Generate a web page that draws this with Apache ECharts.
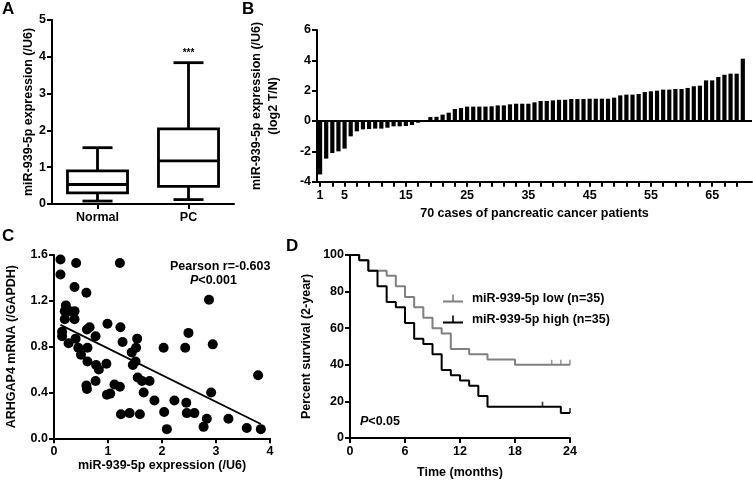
<!DOCTYPE html>
<html>
<head>
<meta charset="utf-8">
<script src="https://cdn.jsdelivr.net/npm/echarts@6/dist/echarts.min.js"></script>
<style>html,body{margin:0;padding:0;background:#fff}#c{width:753px;height:480px}</style>
</head>
<body>
<div id="c"></div>
<script>
// ---------- Panel A: box plot ----------
const boxCategories = ['Normal', 'PC'];
const boxMin    = [0.08, 0.12];
const boxQ1     = [0.30, 0.48];
const boxMedian = [0.53, 1.17];
const boxQ3     = [0.90, 2.04];
const boxMax    = [1.53, 3.84];
const boxStars  = ['', '***'];

// ---------- Panel B: waterfall bars ----------
const caseValues = [
 -3.52,-2.48,-2.11,-2.00,-1.82,-1.01,-0.68,-0.55,-0.53,-0.50,
 -0.50,-0.44,-0.35,-0.35,-0.33,-0.26,-0.11,-0.03, 0.26, 0.28,
  0.42, 0.55, 0.79, 0.86, 0.95, 0.95, 0.95, 0.95, 0.97, 1.03,
  1.03, 1.10, 1.14, 1.14, 1.14, 1.23, 1.32, 1.32, 1.36, 1.40,
  1.40, 1.45, 1.45, 1.45, 1.47, 1.47, 1.47, 1.47, 1.54, 1.69,
  1.74, 1.74, 1.78, 1.91, 1.96, 2.00, 2.07, 2.07, 2.11, 2.11,
  2.18, 2.29, 2.33, 2.68, 2.68, 2.90, 3.05, 3.12, 3.12, 4.11];
const caseLabels = [];
for (let i = 1; i <= 70; i++) caseLabels.push(String(i));
caseLabels.push('');
const caseTickLabels = ['1', '5', '15', '25', '35', '45', '55', '65'];

// ---------- Panel C: scatter ----------
const scatterX = [0.12,0.12,0.41,1.22,0.38,0.60,0.22,0.20,0.29,0.38,0.20,0.38,0.15,0.15,0.27,0.40,0.45,0.50,0.62,0.61,
 0.66,0.77,0.62,0.60,0.61,0.77,0.78,0.83,0.99,0.97,0.98,1.04,1.12,1.22,1.23,1.27,1.24,1.40,1.44,1.54,
 1.52,1.46,1.51,1.55,1.63,1.77,1.59,1.66,1.86,2.03,2.04,2.09,2.23,2.43,2.49,2.45,2.46,2.60,2.77,2.83,
 2.87,2.94,2.91,3.23,3.78,3.57,3.83];
const scatterY = [1.56,1.43,1.53,1.53,1.32,1.27,1.16,1.11,1.11,1.11,1.04,1.04,0.93,0.89,0.83,0.87,0.79,0.73,0.79,0.95,
 0.97,0.89,0.67,0.46,0.43,0.50,0.64,0.60,1.00,0.65,0.38,0.39,0.47,0.45,0.97,0.84,0.21,0.22,0.75,0.87,
 0.79,0.64,0.67,0.53,0.50,0.50,0.21,0.40,0.33,0.79,0.23,0.08,0.33,0.79,0.92,0.31,0.22,0.22,0.10,0.17,
 1.21,0.82,0.40,0.17,0.55,0.09,0.08];
const fitX = [0.12, 3.83];
const fitY = [0.99, 0.125];

// ---------- Panel D: Kaplan-Meier ----------
const lowTime  = [0,1,2,4,5,6,7,8,9,10,11,13,15,18,24];
const lowSurv  = [100,97.1,91.4,88.6,82.9,77.1,71.4,65.7,60.0,57.1,48.6,45.7,42.9,40.0,40.0];
const highTime = [0,1,2,3,4,5,6,7,8,9,10,11,12,13,14,15,23,24];
const highSurv = [100,97.1,91.4,82.9,74.3,71.4,62.9,54.3,51.4,45.7,37.1,34.3,31.4,28.6,22.9,17.1,13.7,13.7];
const lowCensorT  = [22, 23, 24];
const lowCensorS  = [40.0, 40.0, 40.0];
const highCensorT = [21, 24];
const highCensorS = [17.1, 13.7];
const lowName  = 'miR-939-5p low (n=35)';
const highName = 'miR-939-5p high (n=35)';

const FONT = '"Liberation Sans", Arial, sans-serif';
const GRAY = '#808080';
const tickLabel = {fontFamily: FONT, fontWeight: 'bold', fontSize: 12.5, color: '#000'};
const nameStyle = {fontFamily: FONT, fontWeight: 'bold', fontSize: 12.5, color: '#000'};
const axLine = {show: true, onZero: false, lineStyle: {color: '#000', width: 2}};
const axTick = {show: true, length: 5, lineStyle: {color: '#000', width: 2}};

const chart = echarts.init(document.getElementById('c'), null, {renderer: 'canvas'});

const boxData = boxCategories.map((c, i) => [i, boxMin[i], boxQ1[i], boxMedian[i], boxQ3[i], boxMax[i]]);

function renderBox(params, api) {
  const i = api.value(0);
  const band = api.size([1, 0])[0];
  const bw = band * 0.66;
  const cw = band * 0.33;
  const pMin = api.coord([i, api.value(1)]);
  const pQ1 = api.coord([i, api.value(2)]);
  const pMed = api.coord([i, api.value(3)]);
  const pQ3 = api.coord([i, api.value(4)]);
  const pMax = api.coord([i, api.value(5)]);
  const x = pMed[0];
  const st = {stroke: '#000', lineWidth: 2.8, fill: 'none'};
  const children = [
    {type: 'line', shape: {x1: x, y1: pMin[1], x2: x, y2: pQ1[1]}, style: st},
    {type: 'line', shape: {x1: x, y1: pQ3[1], x2: x, y2: pMax[1]}, style: st},
    {type: 'line', shape: {x1: x - cw / 2, y1: pMin[1], x2: x + cw / 2, y2: pMin[1]}, style: st},
    {type: 'line', shape: {x1: x - cw / 2, y1: pMax[1], x2: x + cw / 2, y2: pMax[1]}, style: st},
    {type: 'rect', shape: {x: x - bw / 2, y: pQ3[1], width: bw, height: pQ1[1] - pQ3[1]}, style: {stroke: '#000', lineWidth: 2.8, fill: '#fff'}},
    {type: 'line', shape: {x1: x - bw / 2, y1: pMed[1], x2: x + bw / 2, y2: pMed[1]}, style: st}
  ];
  const star = boxStars[params.dataIndex];
  if (star) {
    children.push({type: 'text', style: {text: star, x: x, y: pMax[1] - 4, textAlign: 'center', textVerticalAlign: 'bottom',
      font: 'bold 10px ' + FONT, fill: '#000'}});
  }
  return {type: 'group', children: children};
}

const option = {
  animation: false,
  backgroundColor: '#fff',
  textStyle: {fontFamily: FONT},
  grid: [
    {left: 52, top: 20, width: 182, height: 184},
    {left: 317, top: 30, width: 435, height: 151.7},
    {left: 54, top: 255, width: 216, height: 183.3},
    {left: 350, top: 255, width: 220, height: 185}
  ],
  xAxis: [
    {gridIndex: 0, type: 'category', data: boxCategories, boundaryGap: true,
     axisLine: axLine, axisTick: Object.assign({alignWithLabel: true}, axTick),
     axisLabel: Object.assign({margin: 7}, tickLabel), splitLine: {show: false}},
    {gridIndex: 1, type: 'category', data: caseLabels, boundaryGap: true,
     axisLine: axLine,
     axisTick: Object.assign({alignWithLabel: true, interval: (idx) => idx % 2 === 0 && idx < 70}, axTick),
     axisLabel: Object.assign({margin: 7, interval: (idx, val) => caseTickLabels.indexOf(val) >= 0}, tickLabel),
     name: '70 cases of pancreatic cancer patients', nameLocation: 'middle', nameGap: 25, nameTextStyle: nameStyle,
     splitLine: {show: false}},
    {gridIndex: 2, type: 'value', min: 0, max: 4, interval: 1,
     axisLine: axLine, axisTick: axTick, axisLabel: Object.assign({margin: 7}, tickLabel), splitLine: {show: false},
     name: 'miR-939-5p expression (/U6)', nameLocation: 'middle', nameGap: 13, nameTextStyle: nameStyle},
    {gridIndex: 3, type: 'value', min: 0, max: 24, interval: 6,
     axisLine: axLine, axisTick: axTick, axisLabel: Object.assign({margin: 7}, tickLabel), splitLine: {show: false},
     name: 'Time (months)', nameLocation: 'middle', nameGap: 28, nameTextStyle: nameStyle}
  ],
  yAxis: [
    {gridIndex: 0, type: 'value', min: 0, max: 5, interval: 1,
     axisLine: axLine, axisTick: axTick, axisLabel: Object.assign({margin: 6}, tickLabel), splitLine: {show: false},
     name: 'miR-939-5p expression (/U6)', nameLocation: 'middle', nameGap: 15, nameRotate: 90, nameTextStyle: nameStyle},
    {gridIndex: 1, type: 'value', min: -4, max: 6, interval: 2,
     axisLine: axLine, axisTick: axTick, axisLabel: Object.assign({margin: 6}, tickLabel), splitLine: {show: false},
     name: 'miR-939-5p expression (/U6)\n(log2 T/N)', nameLocation: 'middle', nameGap: 35, nameRotate: 90,
     nameTextStyle: Object.assign({lineHeight: 17}, nameStyle)},
    {gridIndex: 2, type: 'value', min: 0, max: 1.6, interval: 0.4,
     axisLine: axLine, axisTick: axTick,
     axisLabel: Object.assign({margin: 6, formatter: (v) => v.toFixed(1)}, tickLabel), splitLine: {show: false},
     name: 'ARHGAP4 mRNA (/GAPDH)', nameLocation: 'middle', nameGap: 36, nameRotate: 90, nameTextStyle: nameStyle},
    {gridIndex: 3, type: 'value', min: 0, max: 100, interval: 20,
     axisLine: axLine, axisTick: axTick, axisLabel: Object.assign({margin: 6}, tickLabel), splitLine: {show: false},
     name: 'Percent survival (2-year)', nameLocation: 'middle', nameGap: 37, nameRotate: 90, nameTextStyle: nameStyle}
  ],
  legend: {
    left: 438, top: 287, orient: 'vertical', itemGap: 8, itemWidth: 20, itemHeight: 8,
    selectedMode: false,
    textStyle: {fontFamily: FONT, fontWeight: 'bold', fontSize: 12.5, color: '#000', padding: [0, 0, 0, 4]},
    data: [
      {name: lowName, icon: 'path://M0,6h20v2H0z M9.2,0h1.6v6H9.2z'},
      {name: highName, icon: 'path://M0,6h20v2H0z M9.2,0h1.6v6H9.2z'}
    ]
  },
  series: [
    {type: 'custom', xAxisIndex: 0, yAxisIndex: 0, renderItem: renderBox, data: boxData, silent: true},
    {type: 'bar', xAxisIndex: 1, yAxisIndex: 1, data: caseValues, barWidth: 4.2,
     itemStyle: {color: '#000'}, silent: true,
     markLine: {silent: true, symbol: 'none', label: {show: false},
       lineStyle: {color: '#000', width: 2, type: 'solid'}, data: [{yAxis: 0}]}},
    {type: 'scatter', xAxisIndex: 2, yAxisIndex: 2, symbolSize: 10, itemStyle: {color: '#000', opacity: 1},
     data: scatterX.map((x, i) => [x, scatterY[i]]), silent: true},
    {type: 'line', xAxisIndex: 2, yAxisIndex: 2, symbol: 'none', lineStyle: {color: '#000', width: 1.8},
     data: fitX.map((x, i) => [x, fitY[i]]), silent: true},
    {name: lowName, type: 'line', xAxisIndex: 3, yAxisIndex: 3, step: 'end', symbol: 'none',
     color: GRAY, lineStyle: {color: GRAY, width: 2}, data: lowTime.map((t, i) => [t, lowSurv[i]]), silent: true},
    {name: highName, type: 'line', xAxisIndex: 3, yAxisIndex: 3, step: 'end', symbol: 'none',
     color: '#000', lineStyle: {color: '#000', width: 2}, data: highTime.map((t, i) => [t, highSurv[i]]), silent: true, z: 3},
    {type: 'scatter', xAxisIndex: 3, yAxisIndex: 3, symbol: 'rect', symbolSize: [1.6, 5], symbolOffset: [0, -2.5],
     itemStyle: {color: GRAY}, data: lowCensorT.map((t, i) => [t, lowCensorS[i]]), silent: true},
    {type: 'scatter', xAxisIndex: 3, yAxisIndex: 3, symbol: 'rect', symbolSize: [1.6, 5], symbolOffset: [0, -2.5],
     itemStyle: {color: '#000'}, data: highCensorT.map((t, i) => [t, highCensorS[i]]), silent: true}
  ],
  graphic: [
    {type: 'text', left: 2, top: 1, style: {text: 'A', font: 'bold 17px ' + FONT, fill: '#000'}},
    {type: 'text', left: 242, top: 1, style: {text: 'B', font: 'bold 17px ' + FONT, fill: '#000'}},
    {type: 'text', left: 2, top: 228, style: {text: 'C', font: 'bold 17px ' + FONT, fill: '#000'}},
    {type: 'text', left: 286, top: 238, style: {text: 'D', font: 'bold 17px ' + FONT, fill: '#000'}},
    {type: 'text', left: 170, top: 260, style: {text: 'Pearson r=-0.603', font: 'bold 12.5px ' + FONT, fill: '#000'}},
    {type: 'text', left: 190, top: 274, style: {text: '{i|P}<0.001', font: 'bold 12.5px ' + FONT, fill: '#000',
      rich: {i: {fontStyle: 'italic', fontWeight: 'bold', fontSize: 12.5, fontFamily: FONT}}}},
    {type: 'text', left: 360, top: 415, style: {text: '{i|P}<0.05', font: 'bold 12.5px ' + FONT, fill: '#000',
      rich: {i: {fontStyle: 'italic', fontWeight: 'bold', fontSize: 12.5, fontFamily: FONT}}}}
  ]
};
chart.setOption(option);
</script>
</body>
</html>
